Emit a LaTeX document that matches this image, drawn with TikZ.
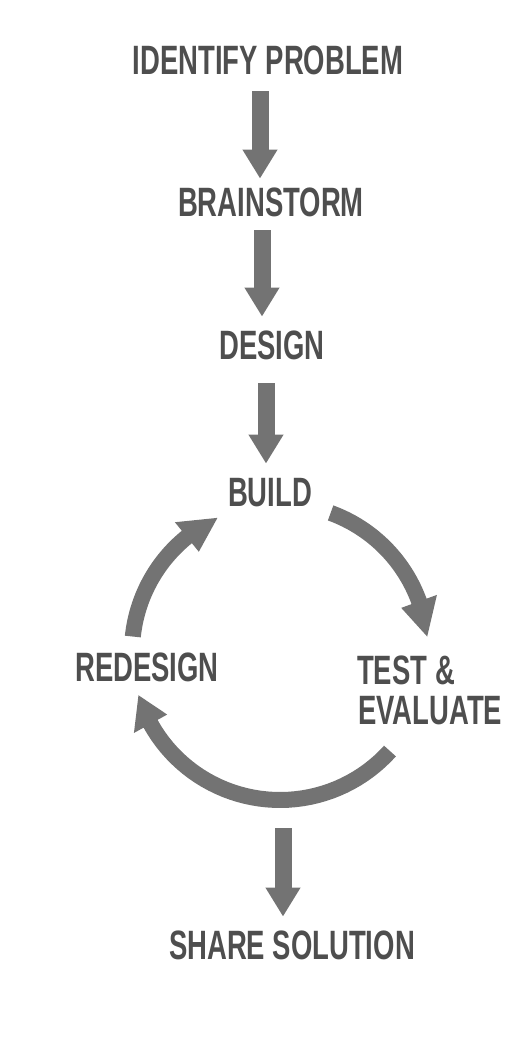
\documentclass[tikz,border=0pt]{standalone}
\usepackage{fontspec}
\setmainfont[FakeStretch=0.67]{Liberation Sans}
\usetikzlibrary{arrows.meta,calc}
\definecolor{inkgray}{HTML}{4E4E4E}
\definecolor{arrowgray}{HTML}{737373}
\newcommand{\cyclearc}[3]{%
  \fill[arrowgray] plot[domain=#1:#2,samples=40] ({\cx+(\rr+\bw)*cos(\x)},{\cy-(\rr+\bw)*sin(\x)})
    -- ({\cx+(\rr+\hw)*cos(#2)},{\cy-(\rr+\hw)*sin(#2)})
    -- ({\cx+\rr*cos(#3)},{\cy-\rr*sin(#3)})
    -- ({\cx+(\rr-\hw)*cos(#2)},{\cy-(\rr-\hw)*sin(#2)})
    -- plot[domain=#2:#1,samples=40] ({\cx+(\rr-\bw)*cos(\x)},{\cy-(\rr-\bw)*sin(\x)})
    -- cycle;}
\begin{document}
\begin{tikzpicture}[x=1pt,y=-1pt,
  stagetext/.style={inner sep=0pt,anchor=south,text=inkgray,
    font=\fontsize{41}{42}\selectfont\bfseries,text height=29pt,text depth=0pt},
  downarrow/.style={draw=arrowgray,line width=17pt,-{Triangle[length=29pt,width=33pt]}}]
  \useasboundingbox (0,0) rectangle (514,1044);
  \node[stagetext] (identify)   at (268,75)  {IDENTIFY PROBLEM};
  \node[stagetext] (brainstorm) at (271,217) {BRAINSTORM};
  \node[stagetext] (design)     at (272,360) {DESIGN};
  \node[stagetext] (build)      at (270,507) {BUILD};
  \node[stagetext] (redesign)   at (147,682) {REDESIGN};
  \node[stagetext,anchor=south west] (test)     at (357,685) {TEST \&};
  \node[stagetext,anchor=south west] (evaluate) at (358,725) {EVALUATE};
  \node[stagetext] (share)      at (292,960) {SHARE SOLUTION};
  \draw[downarrow] ($(identify.south)+(-8,16)$) -- ($(brainstorm.north)+(-11,-9)$);
  \draw[downarrow] ($(brainstorm.south)+(-9,13)$) -- ($(design.north)+(-10,-14)$);
  \draw[downarrow] ($(design.south)+(-6,23)$) -- ($(build.north)+(-4,-14)$);
  \pgfmathsetmacro\cx{280}
  \pgfmathsetmacro\cy{652}
  \pgfmathsetmacro\rr{148}
  \pgfmathsetmacro\bw{8}
  \pgfmathsetmacro\hw{19}
  \cyclearc{70}{20}{6}
  \cyclearc{174}{129}{115}
  \cyclearc{318}{209}{197}
  \coordinate (cyclebottom) at (283,828);
  \draw[downarrow] (cyclebottom) -- ($(share.north)+(-9,-14)$);
\end{tikzpicture}
\end{document}
